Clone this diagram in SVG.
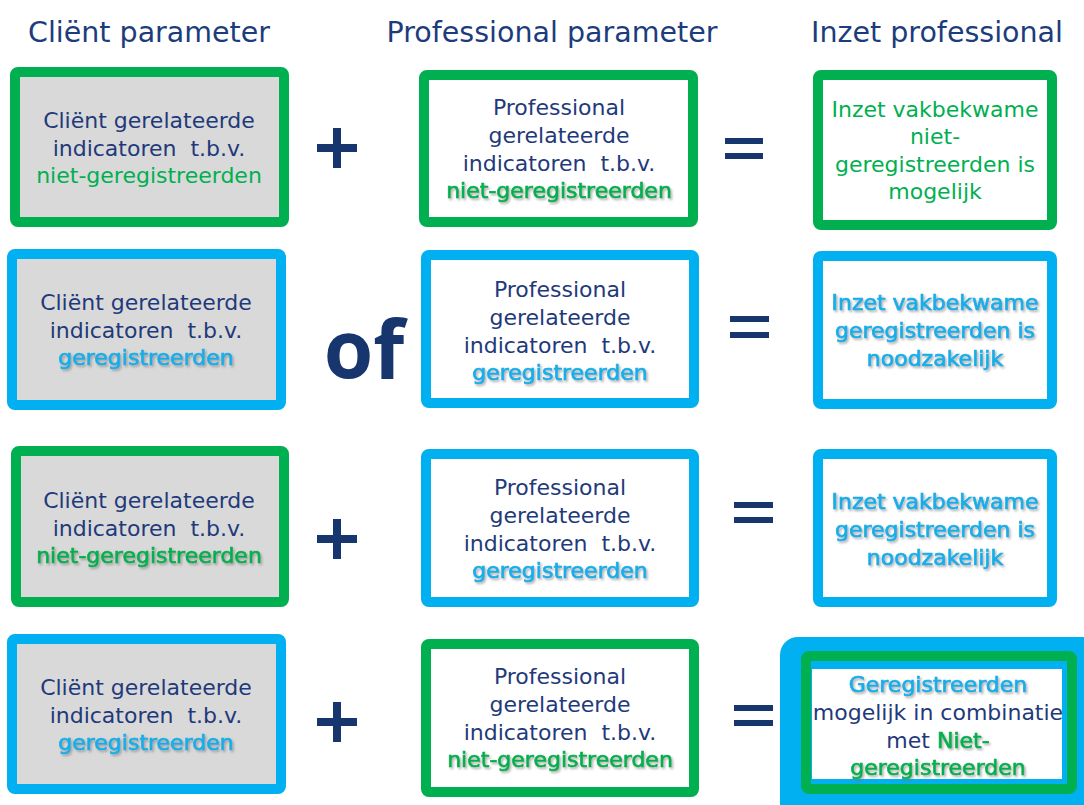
<svg xmlns="http://www.w3.org/2000/svg" width="1084" height="805" viewBox="0 0 1084 805" xml:space="preserve">
<defs>
<filter id="sh" x="-10%" y="-30%" width="120%" height="160%">
<feDropShadow dx="1.5" dy="1.8" stdDeviation="0.9" flood-color="#777" flood-opacity="0.6"/>
</filter>
</defs>
<style>
text{font-family:"DejaVu Sans","Noto Sans",sans-serif;text-anchor:middle;white-space:pre}
.h{font-size:28.5px;fill:#1c3c7c}
.t{font-size:22px;fill:#1f3a7a}
.g{fill:#00b050;stroke:#00b050}
.b{fill:#14aee8;stroke:#14aee8}
.g,.b{stroke-width:0}
.s{stroke-width:0.7px;filter:url(#sh)}
.grn{fill:#ffffff;stroke:#00b050;stroke-width:10}
.blu{fill:#ffffff;stroke:#00b0f0;stroke-width:10}
.grey{fill:#d9d9d9}
.op{fill:#17366e}
.of{font-family:"Open Sans","DejaVu Sans",sans-serif;font-size:80px;font-weight:700;fill:#17366e}
</style>
<rect width="1084" height="805" fill="#ffffff"/>
<g id="headings">
<text class="h" x="149" y="42">Cliënt parameter</text>
<text class="h" x="552" y="42">Professional parameter</text>
<text class="h" x="937" y="42">Inzet professional</text>
</g>
<!-- Row 1 -->
<g id="client1">
<rect class="grn grey" x="15" y="72" width="269" height="150" rx="3"/>
<text class="t" x="149" y="128">Cliënt gerelateerde</text>
<text class="t" x="149" y="156">indicatoren  t.b.v.</text>
<text class="t g" x="149" y="183">niet-geregistreerden</text>
</g>
<g id="prof1">
<rect class="grn" x="424" y="75" width="269" height="147" rx="3"/>
<text class="t" x="559" y="115">Professional</text>
<text class="t" x="559" y="143">gerelateerde</text>
<text class="t" x="559" y="171">indicatoren  t.b.v.</text>
<text class="t g s" x="559" y="198">niet-geregistreerden</text>
</g>
<g id="inzet1">
<rect class="grn" x="818" y="75" width="234" height="150" rx="3"/>
<text class="t g" x="935" y="117">Inzet vakbekwame</text>
<text class="t g" x="935" y="144">niet-</text>
<text class="t g" x="935" y="172">geregistreerden is</text>
<text class="t g" x="935" y="199">mogelijk</text>
</g>
<!-- Row 2 -->
<g id="client2">
<rect class="blu grey" x="12" y="254" width="269" height="151" rx="3"/>
<text class="t" x="146" y="310">Cliënt gerelateerde</text>
<text class="t" x="146" y="338">indicatoren  t.b.v.</text>
<text class="t b s" x="146" y="365">geregistreerden</text>
</g>
<g id="prof2">
<rect class="blu" x="426" y="255" width="268" height="148" rx="3"/>
<text class="t" x="560" y="297">Professional</text>
<text class="t" x="560" y="325">gerelateerde</text>
<text class="t" x="560" y="353">indicatoren  t.b.v.</text>
<text class="t b s" x="560" y="380">geregistreerden</text>
</g>
<g id="inzet2">
<rect class="blu" x="818" y="256" width="234" height="148" rx="3"/>
<text class="t b s" x="935" y="310">Inzet vakbekwame</text>
<text class="t b s" x="935" y="338">geregistreerden is</text>
<text class="t b s" x="935" y="366">noodzakelijk</text>
</g>
<!-- Row 3 -->
<g id="client3">
<rect class="grn grey" x="16" y="451" width="268" height="151" rx="3"/>
<text class="t" x="149" y="508">Cliënt gerelateerde</text>
<text class="t" x="149" y="536">indicatoren  t.b.v.</text>
<text class="t g s" x="149" y="563">niet-geregistreerden</text>
</g>
<g id="prof3">
<rect class="blu" x="426" y="454" width="268" height="148" rx="3"/>
<text class="t" x="560" y="495">Professional</text>
<text class="t" x="560" y="523">gerelateerde</text>
<text class="t" x="560" y="551">indicatoren  t.b.v.</text>
<text class="t b s" x="560" y="578">geregistreerden</text>
</g>
<g id="inzet3">
<rect class="blu" x="818" y="454" width="234" height="148" rx="3"/>
<text class="t b s" x="935" y="509">Inzet vakbekwame</text>
<text class="t b s" x="935" y="537">geregistreerden is</text>
<text class="t b s" x="935" y="565">noodzakelijk</text>
</g>
<!-- Row 4 -->
<g id="client4">
<rect class="blu grey" x="12" y="639" width="269" height="150" rx="3"/>
<text class="t" x="146" y="695">Cliënt gerelateerde</text>
<text class="t" x="146" y="723">indicatoren  t.b.v.</text>
<text class="t b s" x="146" y="750">geregistreerden</text>
</g>
<g id="prof4">
<rect class="grn" x="426" y="644" width="268" height="148" rx="3"/>
<text class="t" x="560" y="684">Professional</text>
<text class="t" x="560" y="712">gerelateerde</text>
<text class="t" x="560" y="740">indicatoren  t.b.v.</text>
<text class="t g s" x="560" y="767">niet-geregistreerden</text>
</g>
<g id="inzet4">
<rect x="780" y="637" width="330" height="200" rx="18" fill="#00b0f0"/>
<rect x="806" y="656" width="266" height="133" rx="3" fill="#00b0f0" stroke="#00b050" stroke-width="10"/>
<rect x="812" y="669" width="250" height="110" fill="#ffffff"/>
<text class="t b s" x="938" y="692">Geregistreerden</text>
<text class="t" x="938" y="720">mogelijk in combinatie</text>
<text class="t" x="938" y="748">met <tspan class="g s">Niet-</tspan></text>
<text class="t g s" x="938" y="775">geregistreerden</text>
</g>
<g id="operators">
<path class="op" d="M333 128h8v16h16v8h-16v16h-8v-16h-16v-8h16z"/>
<rect class="op" x="725" y="138" width="38" height="6"/>
<rect class="op" x="725" y="153" width="38" height="6"/>
<text class="of" x="364" y="378">of</text>
<rect class="op" x="730" y="316" width="39" height="6"/>
<rect class="op" x="730" y="332" width="39" height="6"/>
<path class="op" d="M333 519h8v16h16v8h-16v16h-8v-16h-16v-8h16z"/>
<rect class="op" x="734" y="502" width="39" height="6"/>
<rect class="op" x="734" y="517" width="39" height="6"/>
<path class="op" d="M333 702h8v16h16v8h-16v16h-8v-16h-16v-8h16z"/>
<rect class="op" x="734" y="705" width="39" height="6"/>
<rect class="op" x="734" y="720" width="39" height="6"/>
</g>
</svg>
